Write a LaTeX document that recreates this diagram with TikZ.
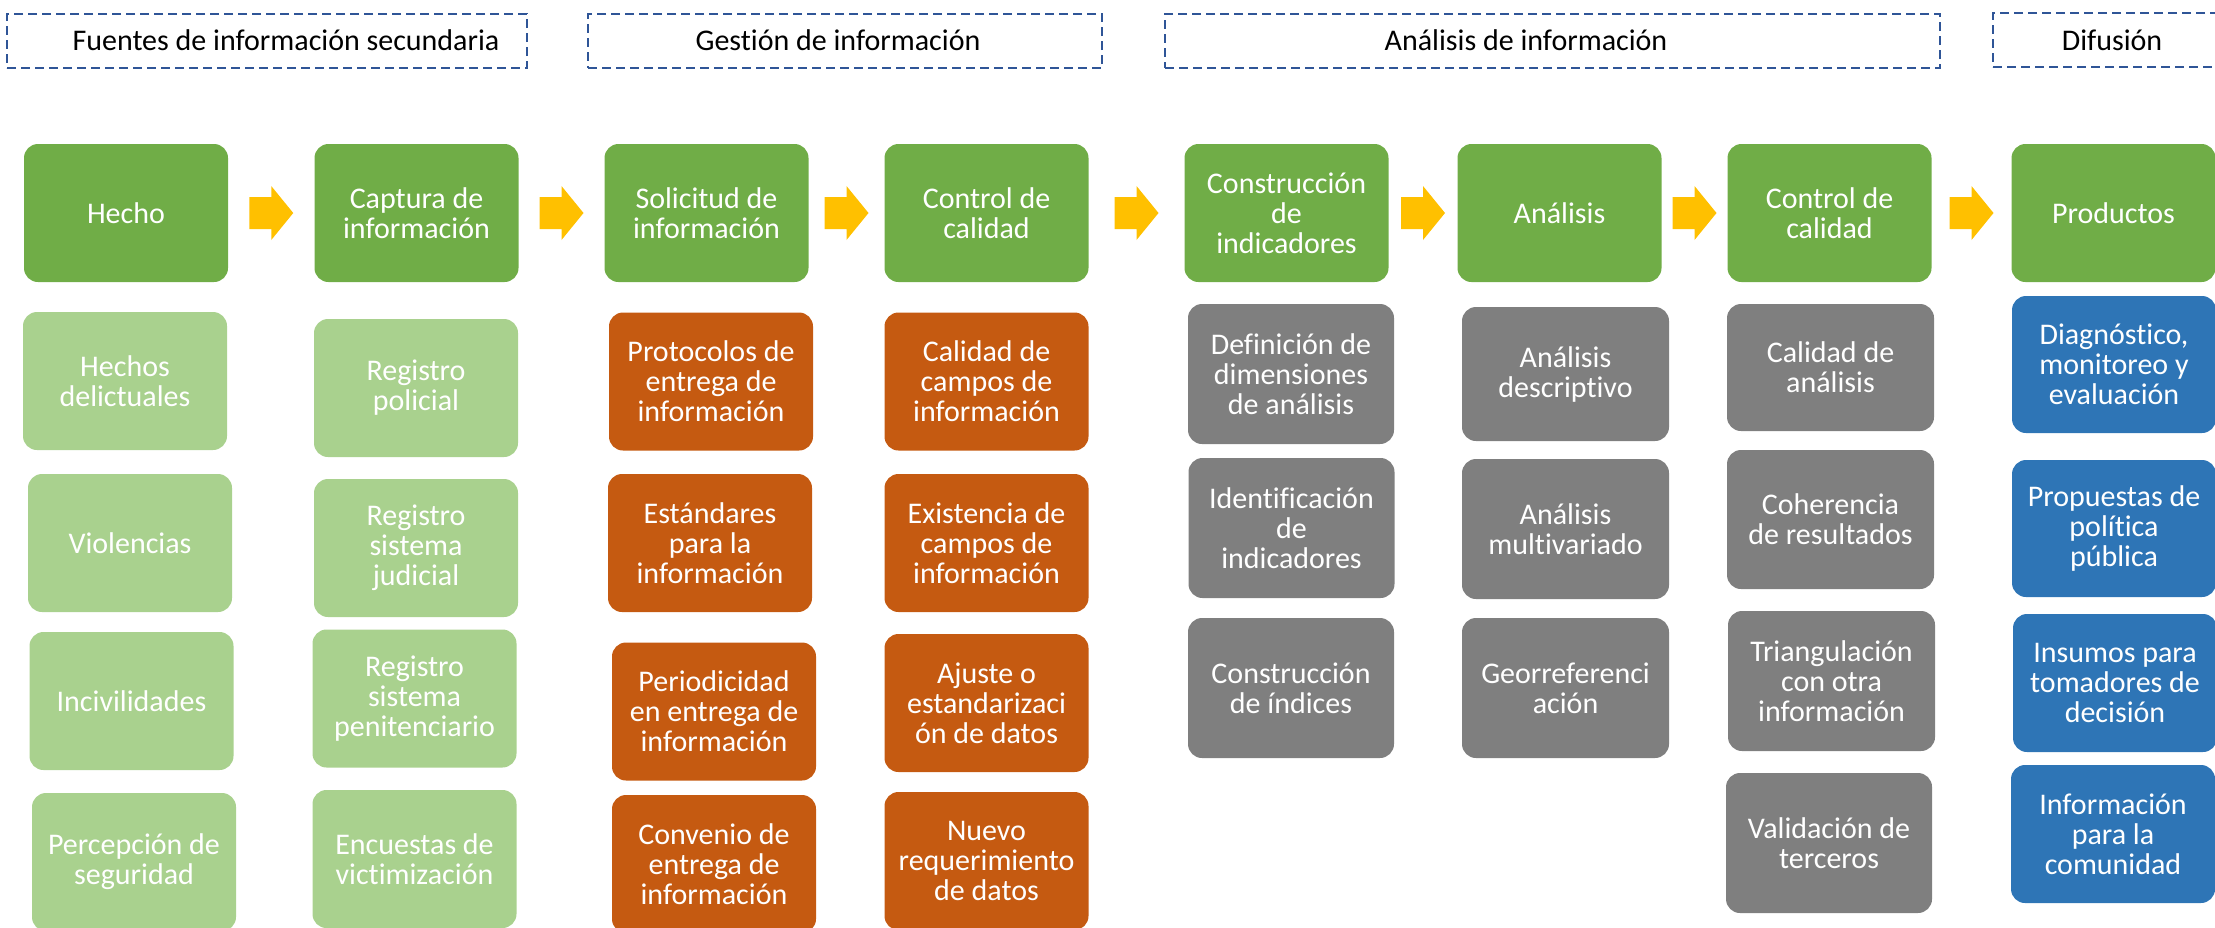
\documentclass[tikz,border=0pt]{standalone}
\usepackage{fontspec}
\setmainfont[Ligatures=NoCommon]{Carlito}
\usetikzlibrary{calc}
\definecolor{gtop}{HTML}{70AD47}
\definecolor{glight}{HTML}{A9D18E}
\definecolor{orng}{HTML}{C55A11}
\definecolor{gry}{HTML}{7F7F7F}
\definecolor{blu}{HTML}{2E75B6}
\definecolor{arrowc}{HTML}{FFC000}
\definecolor{dashc}{HTML}{2F5597}
\newcommand\flowarrow[2]{\fill[arrowc] ($(#1.east)!0.5!(#2.west)$) ++(-22,-16) -- ++(22,0) -- ++(0,-11) -- ++(22,27) -- ++(-22,27) -- ++(0,-11) -- ++(-22,0) -- cycle;}
\tikzset{
  boxbase/.style={rounded corners=14pt, inner sep=0pt, align=center, text=white,
    font=\fontsize{30}{30}\selectfont, minimum width=204pt, minimum height=138pt},
  topbox/.style={boxbase, fill=gtop},
  lgbox/.style={boxbase, fill=glight},
  orbox/.style={boxbase, fill=orng},
  grbox/.style={boxbase, fill=gry},
  blbox/.style={boxbase, fill=blu},
  headbox/.style={draw=dashc, line width=2pt, dash pattern=on 9pt off 5pt, inner sep=0pt},
  headtext/.style={font=\fontsize{30}{30}\selectfont, text=black, anchor=base, inner sep=0pt}
}
\begin{document}
\begin{tikzpicture}[x=1pt,y=-1pt]
\useasboundingbox (0,0) rectangle (2215,927);
% headers
\node[headbox, minimum width=520pt, minimum height=54pt] (h1) at (267,41) {};
\node[headtext] (h1t) at (286,50) {Fuentes de información secundaria};
\node[headbox, minimum width=514pt, minimum height=54pt] (h2) at (845,41) {};
\node[headtext] (h2t) at (838,50) {Gestión de información};
\node[headbox, minimum width=775pt, minimum height=54pt] (h3) at (1552.5,41) {};
\node[headtext] (h3t) at (1526,50) {Análisis de información};
\node[headbox, minimum width=240pt, minimum height=54pt] (h4) at (2113,40) {};
\node[headtext] (h4t) at (2112,50) {Difusión};
% top row
\node[topbox] (hecho) at (126,213) {Hecho};
\node[topbox] (captura) at (416.5,213) {Captura de\\información};
\node[topbox] (solicitud) at (706.5,213) {Solicitud de\\información};
\node[topbox] (control1) at (986.5,213) {Control de\\calidad};
\node[topbox] (constr) at (1286.5,213) {Construcción\\de\\indicadores};
\node[topbox] (analisis) at (1559.5,213) {Análisis};
\node[topbox] (control2) at (1829.5,213) {Control de\\calidad};
\node[topbox] (productos) at (2113.5,213) {Productos};
\flowarrow{hecho}{captura}
\flowarrow{captura}{solicitud}
\flowarrow{solicitud}{control1}
\flowarrow{control1}{constr}
\flowarrow{constr}{analisis}
\flowarrow{analisis}{control2}
\flowarrow{control2}{productos}
% column 1
\node[lgbox] (hd) at (125,381) {Hechos\\delictuales};
\node[lgbox] (vi) at (130,543) {Violencias};
\node[lgbox] (inc) at (131.5,701) {Incivilidades};
\node[lgbox] (per) at (134,862) {Percepción de\\seguridad};
% column 2
\node[lgbox] (rp) at (416,388) {Registro\\policial};
\node[lgbox] (rj) at (416,548) {Registro\\sistema\\judicial};
\node[lgbox] (rpen) at (414.5,698.5) {Registro\\sistema\\penitenciario};
\node[lgbox] (ev) at (414.5,859) {Encuestas de\\victimización};
% column 3
\node[orbox] (prot) at (711,381.5) {Protocolos de\\entrega de\\información};
\node[orbox] (est) at (710,543) {Estándares\\para la\\información};
\node[orbox] (peri) at (714,711.5) {Periodicidad\\en entrega de\\información};
\node[orbox] (conv) at (714,864) {Convenio de\\entrega de\\información};
% column 4
\node[orbox] (calc) at (986.5,381.5) {Calidad de\\campos de\\información};
\node[orbox] (exis) at (986.5,543) {Existencia de\\campos de\\información};
\node[orbox] (ajus) at (986.5,703) {Ajuste o\\estandarizaci\\ón de datos};
\node[orbox] (nuev) at (986.5,861) {Nuevo\\requerimiento\\de datos};
% column 5
\node[grbox, minimum width=206pt, minimum height=140pt] (defi) at (1291,374) {Definición de\\dimensiones\\de análisis};
\node[grbox, minimum width=206pt, minimum height=140pt] (iden) at (1291.5,528) {Identificación\\de\\indicadores};
\node[grbox, minimum width=206pt, minimum height=140pt] (cind) at (1291,688) {Construcción\\de índices};
% column 6
\node[grbox, minimum width=207pt, minimum height=134pt] (adesc) at (1565.5,374) {Análisis\\descriptivo};
\node[grbox, minimum width=207pt, minimum height=140pt] (amult) at (1565.5,529) {Análisis\\multivariado};
\node[grbox, minimum width=207pt, minimum height=140pt] (geo) at (1565.5,688) {Georreferenci\\ación};
% column 7
\node[grbox, minimum width=207pt, minimum height=127pt] (cala) at (1830.5,367.5) {Calidad de\\análisis};
\node[grbox, minimum width=207pt, minimum height=139pt] (cohe) at (1830.5,519.5) {Coherencia\\de resultados};
\node[grbox, minimum width=207pt, minimum height=140pt] (tria) at (1831.5,681) {Triangulación\\con otra\\información};
\node[grbox, minimum width=206pt, minimum height=140pt] (vali) at (1829,843) {Validación de\\terceros};
% column 8
\node[blbox, minimum height=137pt] (diag) at (2114,364.5) {Diagnóstico,\\monitoreo y\\evaluación};
\node[blbox, minimum height=137pt] (prop) at (2114,528.5) {Propuestas de\\política\\pública};
\node[blbox] (insu) at (2115,683) {Insumos para\\tomadores de\\decisión};
\node[blbox] (info) at (2113,834) {Información\\para la\\comunidad};
\end{tikzpicture}
\end{document}
